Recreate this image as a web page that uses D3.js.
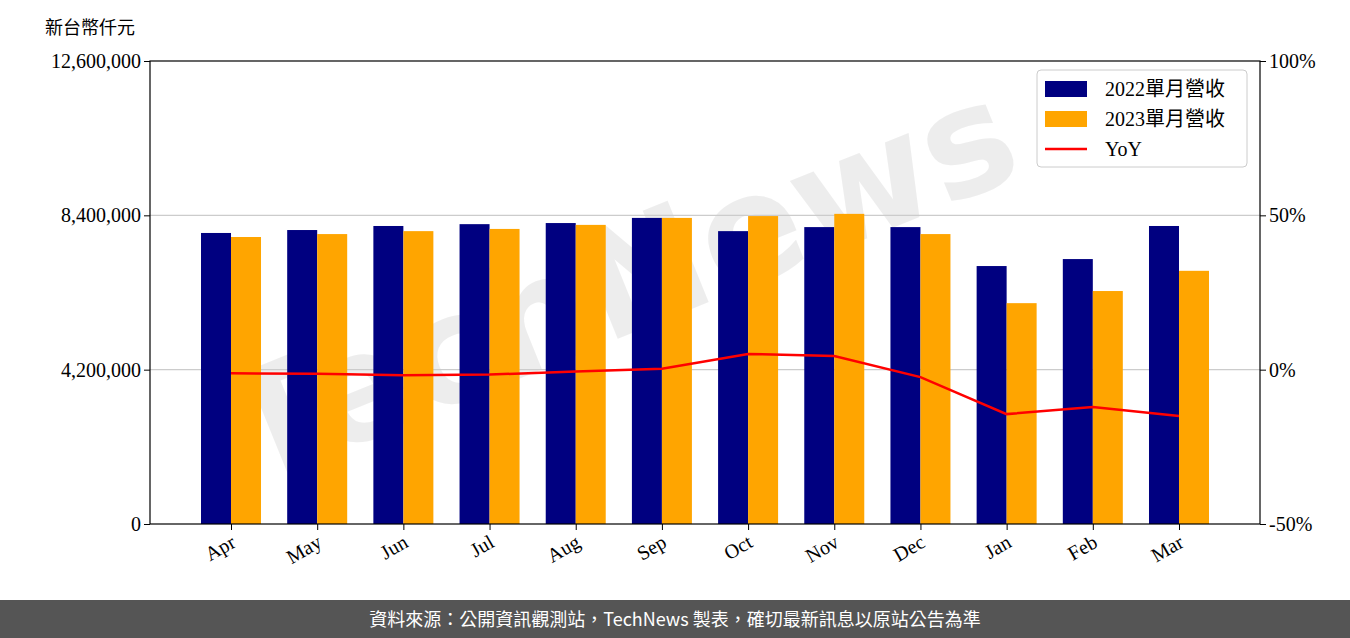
<!DOCTYPE html><html><head><meta charset="utf-8"><script src="https://cdn.jsdelivr.net/npm/d3@7"></script>
<style>body{margin:0;background:#fff}</style></head><body><svg id="c" width="1350" height="638"></svg>
<script>
const months=["Apr","May","Jun","Jul","Aug","Sep","Oct","Nov","Dec","Jan","Feb","Mar"];
const rev2022=[7920000,8000000,8110000,8160000,8190000,8330000,7970000,8080000,8080000,7020000,7210000,8110000];
const rev2023=[7810000,7890000,7970000,8030000,8140000,8330000,8380000,8440000,7890000,6010000,6340000,6890000];
const yoy=[-1.2,-1.3,-1.8,-1.6,-0.6,0.3,5.1,4.4,-2.4,-14.4,-12.1,-15.0];
const leftTicks=[0,4200000,8400000,12600000];
const rightTicks=[-50,0,50,100];
const svg=d3.select("#c");
const L=150,R=1260,T=61,B=524;
const x=d3.scaleLinear().domain([-0.94,11.94]).range([L,R]);
const y=d3.scaleLinear().domain([0,12600000]).range([B,T]);
const y2=d3.scaleLinear().domain([-50,100]).range([B,T]);
const serif="'Liberation Serif','DejaVu Serif',serif";
svg.append("text").attr("x",640).attr("y",330).attr("text-anchor","middle").attr("transform","rotate(-22,640,330)")
 .attr("font-family","'DejaVu Sans',sans-serif").attr("font-weight","bold").attr("font-size",150)
 .attr("fill","#ddd").attr("opacity",0.5).text("TechNews");
svg.selectAll("line.g").data([4200000,8400000]).join("line").attr("x1",L).attr("x2",R)
 .attr("y1",d=>y(d)).attr("y2",d=>y(d)).attr("stroke","#ccc").attr("stroke-width",1.2);
const bw=30;
svg.selectAll("rect.a").data(rev2022).join("rect").attr("x",(d,i)=>x(i)-bw).attr("width",bw)
 .attr("y",d=>y(d)).attr("height",d=>B-y(d)).attr("fill","#000080");
svg.selectAll("rect.b").data(rev2023).join("rect").attr("x",(d,i)=>x(i)).attr("width",bw)
 .attr("y",d=>y(d)).attr("height",d=>B-y(d)).attr("fill","#ffa500");
svg.append("path").datum(yoy).attr("d",d3.line().x((d,i)=>x(i)).y(d=>y2(d)))
 .attr("fill","none").attr("stroke","red").attr("stroke-width",2.5);
svg.append("rect").attr("x",L).attr("y",T).attr("width",R-L).attr("height",B-T).attr("fill","none").attr("stroke","#000").attr("stroke-width",1.2);
const ax=svg.append("g").attr("transform",`translate(${L},0)`).call(d3.axisLeft(y).tickValues(leftTicks).tickFormat(d3.format(",")).tickSizeOuter(0));
const ax2=svg.append("g").attr("transform",`translate(${R},0)`).call(d3.axisRight(y2).tickValues(rightTicks).tickFormat(d=>d+"%").tickSizeOuter(0));
const ax3=svg.append("g").attr("transform",`translate(0,${B})`).call(d3.axisBottom(x).tickValues(d3.range(12)).tickFormat(i=>months[i]).tickSizeOuter(0));
[ax,ax2,ax3].forEach(a=>{a.select(".domain").remove();a.selectAll("text").attr("font-family",serif).attr("font-size",20).attr("fill","#000");});
ax3.selectAll("text").attr("text-anchor","end").attr("y",0).attr("dy","0.35em").attr("transform","translate(2,16) rotate(-30)");
svg.append("text").attr("x",45).attr("y",34).attr("font-family","'Noto Sans CJK TC'").attr("font-size",18).text("新台幣仟元");
const lg=svg.append("g");
lg.append("rect").attr("x",1037).attr("y",70).attr("width",210).attr("height",97).attr("rx",4).attr("fill","#fff").attr("fill-opacity",0.8).attr("stroke","#ccc");
const items=[["2022單月營收","#000080","rect"],["2023單月營收","#ffa500","rect"],["YoY","red","line"]];
items.forEach((it,i)=>{const yy=89+i*30;
 if(it[2]=="rect")lg.append("rect").attr("x",1045).attr("y",yy-8).attr("width",42).attr("height",16).attr("fill",it[1]);
 else lg.append("line").attr("x1",1045).attr("x2",1087).attr("y1",yy).attr("y2",yy).attr("stroke",it[1]).attr("stroke-width",2.5);
 lg.append("text").attr("x",1105).attr("y",yy+7).attr("font-family",serif+",'Noto Sans CJK TC'").attr("font-size",20).text(it[0]);});
svg.append("rect").attr("x",0).attr("y",600).attr("width",1350).attr("height",38).attr("fill","#555");
svg.append("text").attr("x",675).attr("y",626).attr("text-anchor","middle").attr("fill","#fff").attr("font-family","'Noto Sans CJK TC'").attr("font-size",18)
 .text("資料來源：公開資訊觀測站，TechNews 製表，確切最新訊息以原站公告為準");
</script></body></html>
